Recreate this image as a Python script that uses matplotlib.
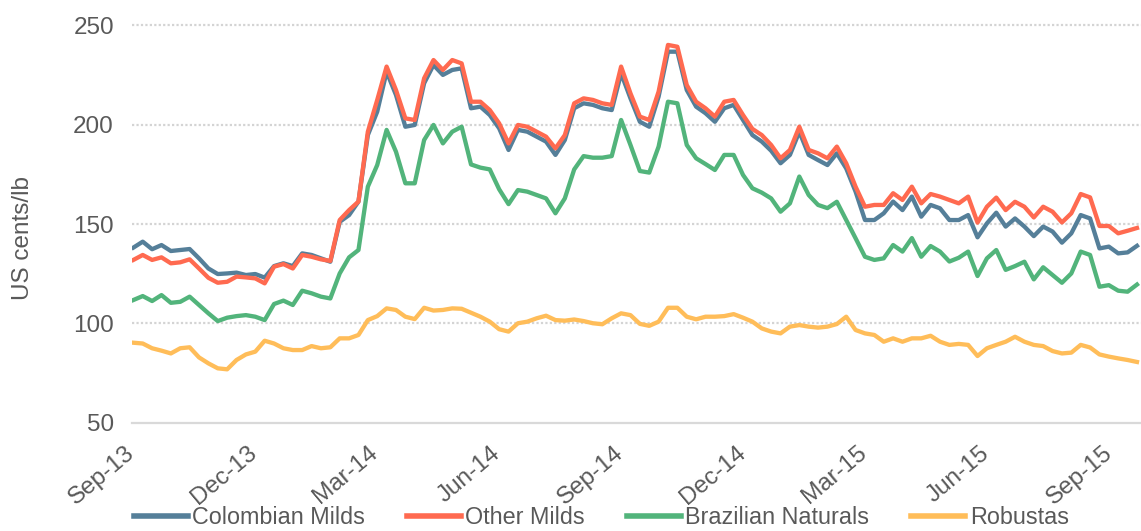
import numpy as np
import pandas as pd
import matplotlib
matplotlib.use('Agg')
import matplotlib.pyplot as plt
import matplotlib.dates as mdates

# weekly readings, US cents/lb, from early Sep 2013
colombian = [138.1, 141.1, 137.3, 139.4, 136.4, 136.9, 137.4, 132.7, 127.6, 124.8,
             125.1, 125.5, 124.3, 124.8, 123.0, 128.8, 130.2, 128.8, 135.2, 134.4,
             132.7, 131.0, 151.1, 154.5, 161.3, 194.8, 206.6, 226.7, 215.0, 199.0,
             199.9, 220.9, 230.1, 225.1, 227.6, 228.4, 208.3, 209.1, 204.9, 198.2,
             187.3, 197.4, 196.5, 194.0, 191.5, 184.8, 192.3, 208.3, 210.8, 210.0,
             208.3, 207.4, 225.9, 213.3, 201.5, 199.0, 214.2, 236.8, 236.8, 217.5,
             209.1, 205.8, 201.5, 208.3, 210.0, 202.4, 194.8, 191.5, 186.9, 180.6,
             184.8, 196.5, 184.8, 182.2, 179.7, 185.6, 178.0, 166.3, 152.0, 152.0,
             155.4, 161.3, 157.0, 163.8, 153.7, 159.6, 157.9, 152.0, 152.0, 154.5,
             143.3, 150.3, 155.7, 148.7, 152.8, 148.7, 143.9, 148.7, 146.2, 140.6,
             145.3, 154.5, 152.8, 137.7, 138.6, 135.2, 135.7, 139.0]
other_milds = [131.9, 134.4, 131.9, 133.2, 130.2, 130.7, 132.2, 127.6, 122.9, 120.4,
               120.9, 123.5, 123.1, 122.6, 120.1, 128.5, 129.8, 127.6, 134.4, 133.5,
               132.2, 131.4, 152.0, 157.0, 161.3, 196.5, 212.5, 229.3, 217.5, 203.2,
               202.4, 223.4, 232.6, 227.6, 232.6, 230.9, 211.6, 211.6, 207.4, 200.7,
               190.6, 199.9, 199.0, 196.5, 194.0, 188.1, 194.8, 210.8, 213.3, 212.5,
               210.8, 210.0, 229.3, 215.8, 204.1, 202.4, 216.7, 240.2, 239.3, 220.0,
               211.6, 208.3, 204.1, 211.6, 212.5, 204.9, 197.9, 194.8, 189.8, 183.1,
               187.3, 199.0, 187.3, 185.6, 183.1, 189.0, 180.6, 168.8, 158.7, 159.6,
               159.6, 165.5, 162.1, 168.8, 160.4, 165.1, 163.8, 162.1, 160.4, 163.8,
               150.7, 158.7, 163.3, 157.0, 161.2, 158.7, 153.3, 158.7, 156.2, 150.8,
               155.4, 165.1, 163.4, 149.0, 149.0, 145.3, 146.6, 148.0]
brazilian = [111.7, 113.7, 111.2, 114.2, 110.3, 110.8, 113.4, 109.2, 105.0, 101.1,
             102.8, 103.6, 104.1, 103.3, 101.6, 109.7, 111.4, 109.2, 116.4, 115.1,
             113.4, 112.5, 125.1, 133.2, 136.9, 168.8, 179.7, 197.4, 186.4, 170.5,
             170.5, 192.3, 199.9, 190.6, 196.5, 199.0, 180.0, 178.4, 177.5, 167.5,
             160.0, 167.1, 166.3, 164.6, 162.9, 155.4, 162.9, 177.5, 184.2, 183.4,
             183.4, 184.2, 202.4, 189.8, 176.7, 175.9, 189.0, 211.6, 210.8, 189.8,
             183.1, 180.2, 177.2, 184.8, 184.8, 174.7, 168.0, 165.8, 162.9, 156.2,
             160.4, 173.9, 164.6, 159.6, 158.0, 161.2, 152.0, 142.8, 133.5, 131.9,
             132.7, 139.4, 136.1, 142.9, 133.5, 138.9, 136.1, 131.1, 133.0, 136.1,
             123.8, 132.7, 136.9, 126.9, 128.8, 131.0, 122.1, 128.2, 124.3, 120.4,
             125.1, 136.1, 134.4, 118.4, 119.2, 116.4, 115.9, 119.5]
robustas = [90.2, 89.8, 87.4, 86.2, 84.8, 87.4, 87.9, 82.8, 79.8, 77.3,
            76.8, 81.5, 84.3, 85.7, 91.2, 89.8, 87.4, 86.5, 86.5, 88.5,
            87.4, 87.9, 92.4, 92.4, 94.1, 101.6, 103.6, 107.5, 106.7, 103.3,
            102.1, 107.8, 106.4, 106.7, 107.5, 107.3, 105.3, 103.3, 100.8, 97.0,
            95.8, 100.0, 100.8, 102.5, 103.8, 101.6, 101.3, 101.9, 101.1, 100.0,
            99.5, 102.5, 105.0, 104.1, 99.7, 98.7, 100.8, 107.8, 107.8, 103.3,
            102.0, 103.3, 103.3, 103.6, 104.6, 102.8, 100.8, 97.4, 95.8, 94.9,
            98.3, 99.1, 98.3, 97.8, 98.3, 99.6, 103.3, 96.6, 94.9, 94.1,
            90.7, 92.4, 90.7, 92.4, 92.4, 93.7, 90.7, 89.1, 89.6, 89.1,
            83.5, 87.4, 89.1, 90.7, 93.2, 90.7, 89.1, 88.5, 86.0, 84.8,
            85.2, 89.1, 87.8, 84.3, 83.2, 82.3, 81.5, 80.5]

dates = pd.date_range('2013-09-02', periods=len(colombian), freq='7D')
series = [('Colombian Milds', colombian, '#557f99'),
          ('Other Milds', other_milds, '#ff6a50'),
          ('Brazilian Naturals', brazilian, '#52b47b'),
          ('Robustas', robustas, '#ffbd59')]

plt.rcParams['font.family'] = ['Liberation Sans', 'DejaVu Sans']
txt = '#595959'
fs = 17.5

fig = plt.figure(figsize=(11.41, 5.31), dpi=100)
ax = fig.add_axes([0.1157, 0.2043, 0.8843, 0.7477])

for name, vals, col in series:
    ax.plot(dates, vals, color=col, lw=3.1, label=name, solid_joinstyle='round')

ax.set_ylim(50, 250)
ax.set_xlim(pd.Timestamp('2013-09-01'), pd.Timestamp('2015-09-24'))
ax.set_yticks([50, 100, 150, 200, 250])
for v in [100, 150, 200, 250]:
    ax.axhline(v, color='#d4d4d4', lw=1.6, ls=(0, (1, 1)), zorder=0, clip_on=False)
for s in ['top', 'right', 'left']:
    ax.spines[s].set_visible(False)
ax.spines['bottom'].set_color('#d9d9d9')
ax.spines['bottom'].set_linewidth(1.6)

ax.xaxis.set_major_locator(mdates.MonthLocator(bymonth=[3, 6, 9, 12], bymonthday=1))
ax.xaxis.set_major_formatter(mdates.DateFormatter('%b-%y'))
ax.tick_params(axis='both', length=0, labelsize=fs, labelcolor=txt)
ax.tick_params(axis='y', pad=13)
ax.tick_params(axis='x', pad=20)
for lab in ax.get_xticklabels():
    lab.set_rotation(40)
    lab.set_ha('right')
    lab.set_va('center')
    lab.set_rotation_mode('anchor')

fig.text(23 / 1141, 1 - 238 / 531, 'US cents/lb', rotation=90, ha='center', va='center',
         fontsize=fs, color=txt)

# legend sits at the very bottom, kept just inside the canvas
leg = fig.legend(loc='center', bbox_to_anchor=(0.527, 0.025), ncol=4, frameon=False,
                 fontsize=16.8, handlelength=2.3, handletextpad=0.2, columnspacing=1.8,
                 borderpad=0, borderaxespad=0)
for t in leg.get_texts():
    t.set_color(txt)
for h in leg.get_lines():
    h.set_linewidth(4)

fig.savefig('out.png', dpi=100)
